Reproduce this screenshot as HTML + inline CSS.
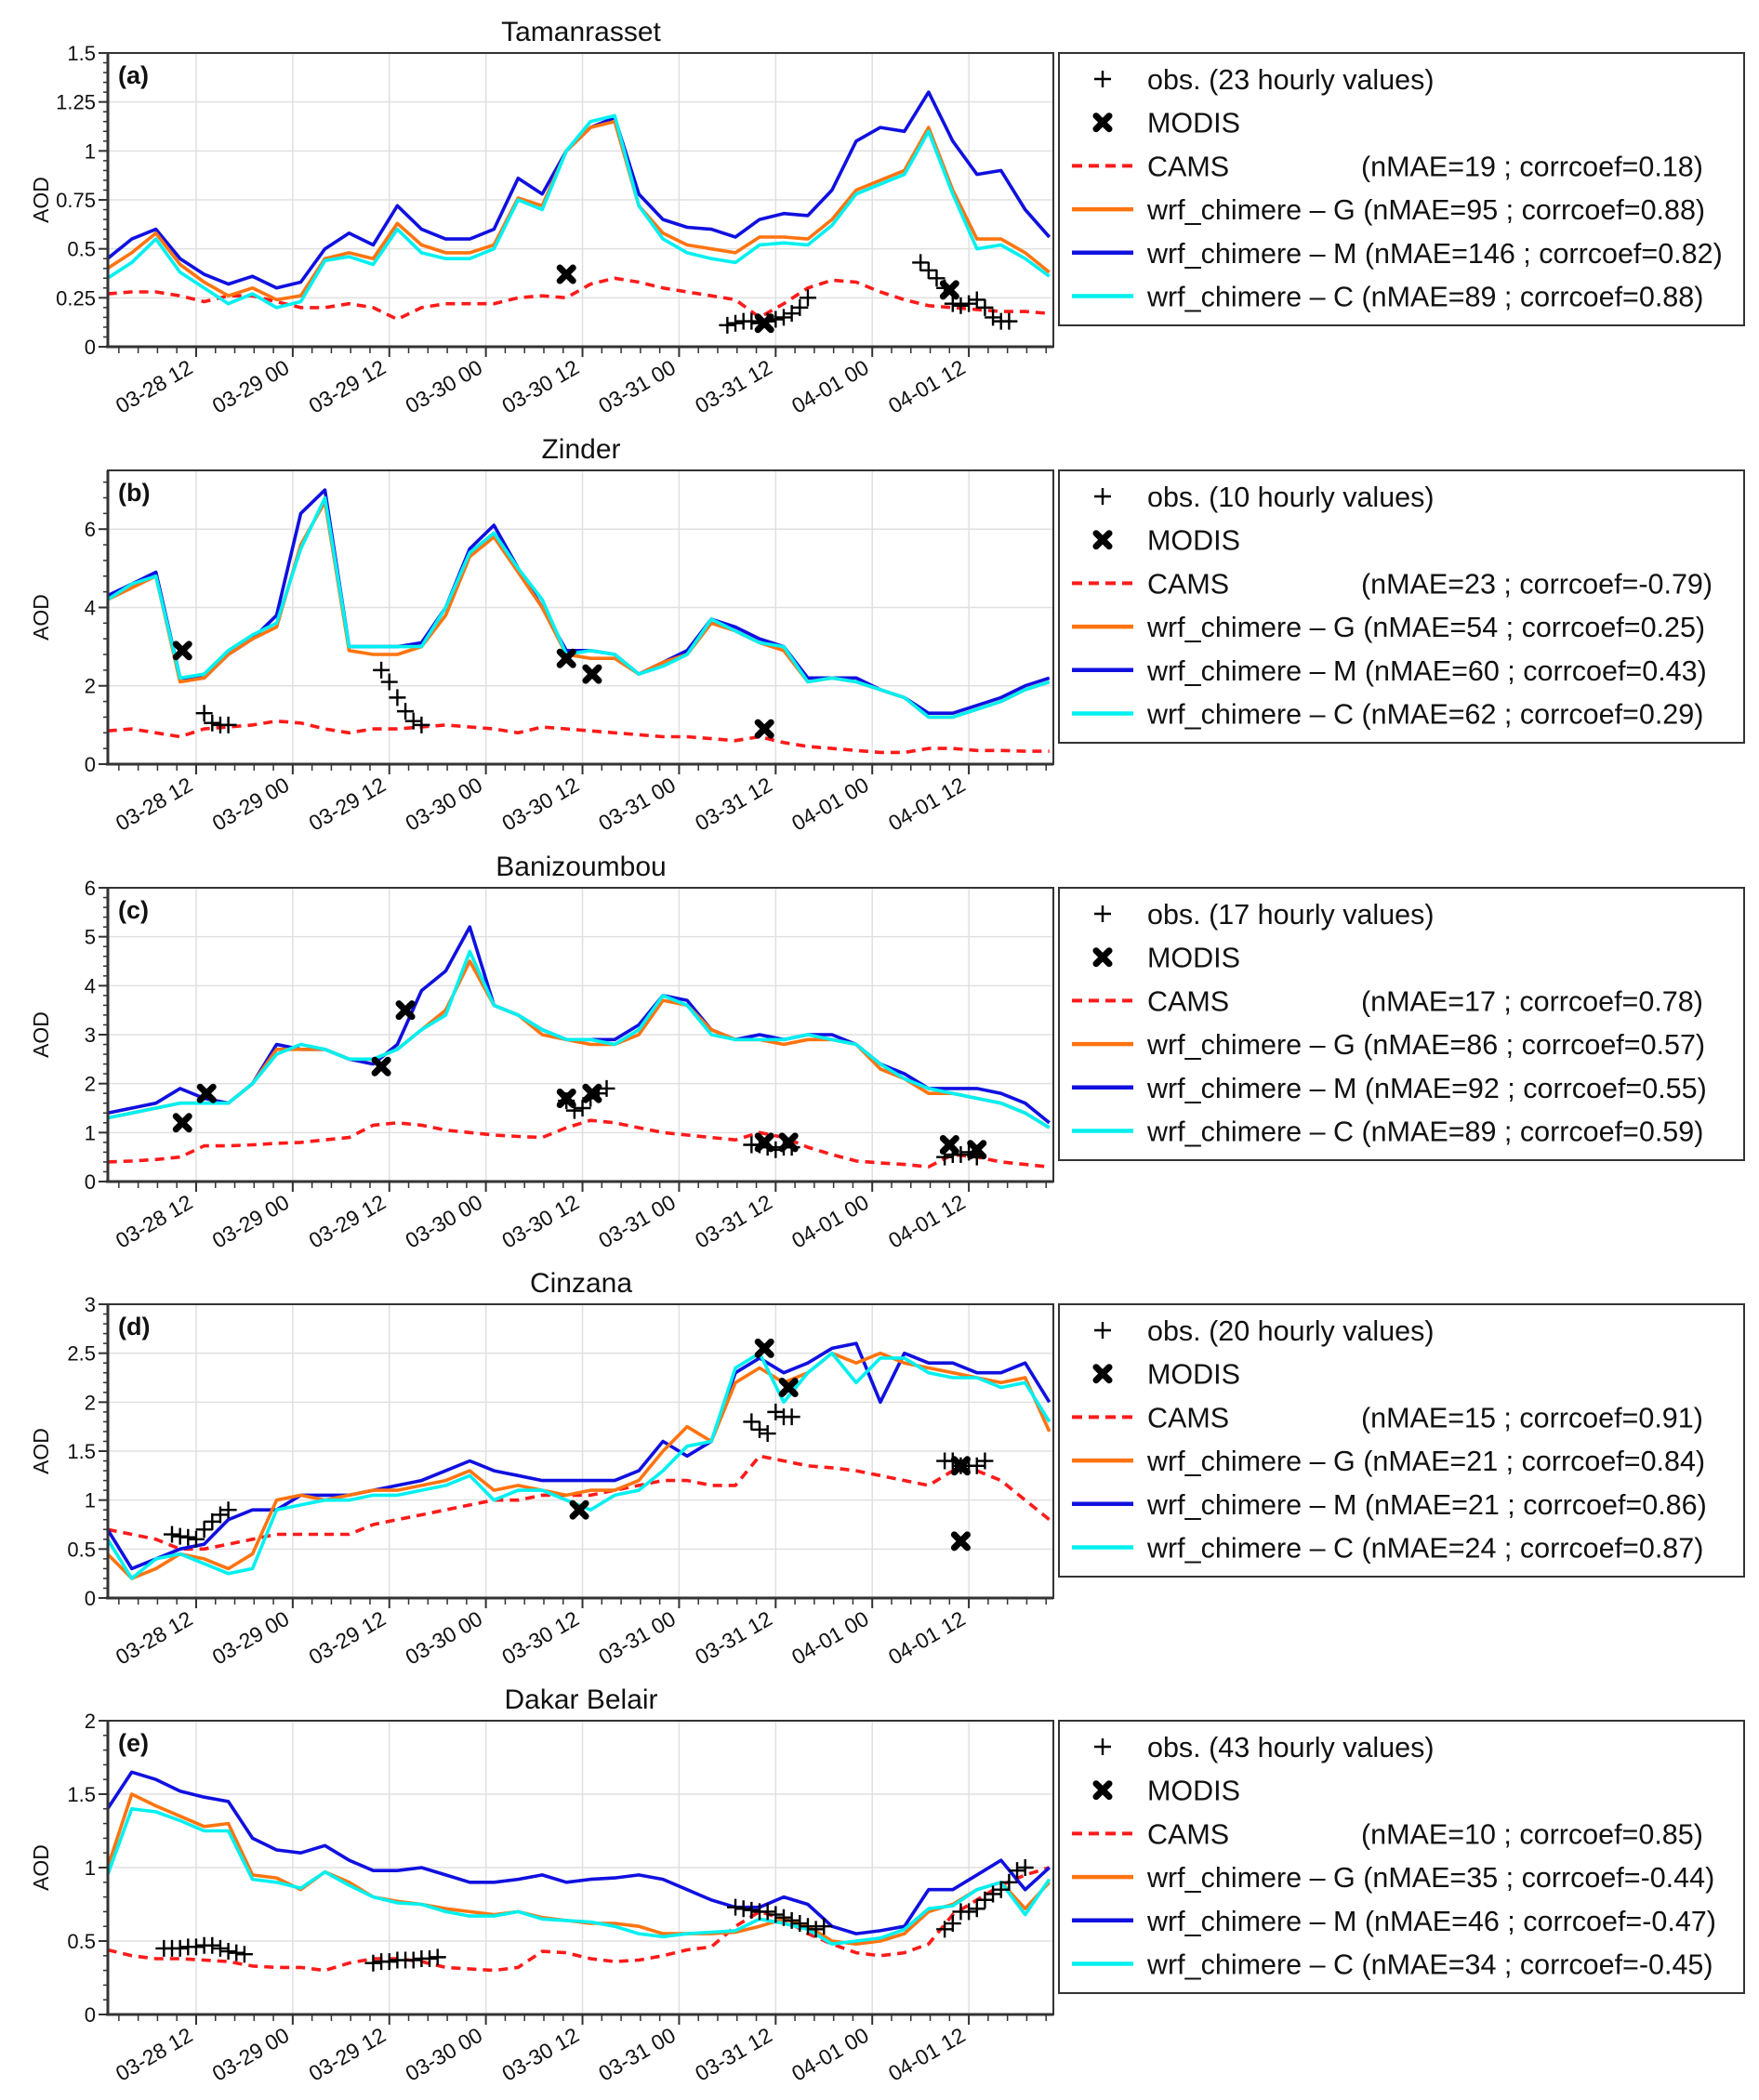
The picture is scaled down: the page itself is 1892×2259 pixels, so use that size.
<!DOCTYPE html>
<html><head><meta charset="utf-8"><title>AOD time series</title>
<style>
html,body{margin:0;padding:0;background:#fff;}
svg{display:block;font-family:"Liberation Sans",Arial,sans-serif;}
</style></head>
<body>
<svg id="fig" width="1892" height="2259" viewBox="0 0 1892 2259"></svg>
<script>
// ---------- data ----------
const hours = [1,4,7,10,13,16,19,22,25,28,31,34,37,40,43,46,49,52,55,58,61,64,67,70,73,76,79,82,85,88,91,94,97,100,103,106,109,112,115,118];
const xTickLabels = ["03-28 12","03-29 00","03-29 12","03-30 00","03-30 12","03-31 00","03-31 12","04-01 00","04-01 12"];
const xTickHours = [12,24,36,48,60,72,84,96,108];
const stationNames = ["Tamanrasset","Zinder","Banizoumbou","Cinzana","Dakar Belair"];
const panelLetters = ["(a)","(b)","(c)","(d)","(e)"];
const yMaxes = [1.5,7.5,6,3,2];
const yTickSteps = [0.25,2,1,0.5,0.5];
const yTickLabelsA = ["0","0.25","0.5","0.75","1","1.25","1.5"];
const yTickLabelsB = ["0","2","4","6"];
const yTickLabelsC = ["0","1","2","3","4","5","6"];
const yTickLabelsD = ["0","0.5","1","1.5","2","2.5","3"];
const yTickLabelsE = ["0","0.5","1","1.5","2"];

const camsA = [0.27,0.28,0.28,0.26,0.23,0.26,0.26,0.23,0.2,0.2,0.22,0.2,0.14,0.2,0.22,0.22,0.22,0.25,0.26,0.25,0.32,0.35,0.33,0.3,0.28,0.26,0.24,0.15,0.22,0.3,0.34,0.33,0.28,0.24,0.21,0.2,0.19,0.18,0.18,0.17];
const gA = [0.4,0.48,0.58,0.42,0.33,0.26,0.3,0.24,0.26,0.45,0.48,0.45,0.63,0.52,0.48,0.48,0.52,0.76,0.72,1.0,1.12,1.15,0.72,0.58,0.52,0.5,0.48,0.56,0.56,0.55,0.65,0.8,0.85,0.9,1.12,0.8,0.55,0.55,0.48,0.38];
const mA = [0.45,0.55,0.6,0.45,0.37,0.32,0.36,0.3,0.33,0.5,0.58,0.52,0.72,0.6,0.55,0.55,0.6,0.86,0.78,1.0,1.12,1.17,0.78,0.65,0.61,0.6,0.56,0.65,0.68,0.67,0.8,1.05,1.12,1.1,1.3,1.05,0.88,0.9,0.7,0.56];
const cA = [0.35,0.43,0.55,0.38,0.3,0.22,0.27,0.2,0.23,0.44,0.46,0.42,0.6,0.48,0.45,0.45,0.5,0.75,0.7,1.0,1.15,1.18,0.72,0.55,0.48,0.45,0.43,0.52,0.53,0.52,0.62,0.78,0.83,0.88,1.1,0.78,0.5,0.52,0.45,0.36];
const obsHoursA = [78,79,80,81,82,83,84,85,86,87,88,102,103,104,105,106,107,108,109,110,111,112,113];
const obsA = [0.11,0.12,0.13,0.13,0.12,0.13,0.14,0.15,0.17,0.2,0.25,0.43,0.39,0.35,0.3,0.22,0.21,0.22,0.24,0.2,0.15,0.13,0.13];
const modisHoursA = [58,82.6,105.6];
const modisA = [0.37,0.12,0.29];

const camsB = [0.85,0.9,0.8,0.7,0.9,0.95,1.0,1.1,1.05,0.9,0.8,0.9,0.9,0.95,1.0,0.95,0.9,0.8,0.95,0.9,0.85,0.8,0.75,0.7,0.7,0.65,0.6,0.7,0.55,0.45,0.4,0.35,0.3,0.3,0.4,0.4,0.35,0.35,0.33,0.33];
const gB = [4.2,4.5,4.8,2.1,2.2,2.8,3.2,3.5,5.6,6.7,2.9,2.8,2.8,3.0,3.8,5.3,5.8,4.9,4.0,2.8,2.7,2.7,2.3,2.6,2.8,3.6,3.4,3.1,2.9,2.1,2.2,2.1,1.9,1.7,1.2,1.2,1.4,1.6,1.9,2.1];
const mB = [4.3,4.6,4.9,2.2,2.2,2.8,3.2,3.8,6.4,7.0,3.0,3.0,3.0,3.1,4.0,5.5,6.1,5.0,4.0,2.9,2.9,2.8,2.3,2.6,2.9,3.7,3.5,3.2,3.0,2.2,2.2,2.2,1.9,1.7,1.3,1.3,1.5,1.7,2.0,2.2];
const cB = [4.2,4.6,4.8,2.2,2.3,2.9,3.3,3.6,5.5,6.8,3.0,3.0,3.0,3.0,4.0,5.4,5.9,5.0,4.2,2.8,2.9,2.8,2.3,2.5,2.8,3.7,3.4,3.1,3.0,2.1,2.2,2.1,1.9,1.7,1.2,1.2,1.4,1.6,1.9,2.1];
const obsHoursB = [13,14,15,16,35,36,37,38,39,40];
const obsB = [1.3,1.05,1.0,1.0,2.4,2.1,1.7,1.35,1.1,1.0];
const modisHoursB = [10.3,58,61.2,82.6];
const modisB = [2.9,2.7,2.3,0.9];

const camsC = [0.4,0.42,0.45,0.5,0.73,0.73,0.75,0.78,0.8,0.85,0.9,1.15,1.2,1.15,1.05,1.0,0.95,0.92,0.9,1.1,1.25,1.2,1.1,1.0,0.95,0.9,0.85,1.0,0.9,0.7,0.55,0.42,0.38,0.35,0.3,0.55,0.5,0.4,0.35,0.3];
const gC = [1.3,1.4,1.5,1.6,1.6,1.6,2.0,2.7,2.7,2.7,2.5,2.5,2.7,3.1,3.5,4.5,3.6,3.4,3.0,2.9,2.8,2.8,3.0,3.7,3.6,3.1,2.9,2.9,2.8,2.9,2.9,2.8,2.3,2.1,1.8,1.8,1.7,1.6,1.4,1.1];
const mC = [1.4,1.5,1.6,1.9,1.7,1.6,2.0,2.8,2.7,2.7,2.5,2.4,2.8,3.9,4.3,5.2,3.6,3.4,3.1,2.9,2.9,2.9,3.2,3.8,3.7,3.1,2.9,3.0,2.9,3.0,3.0,2.8,2.4,2.2,1.9,1.9,1.9,1.8,1.6,1.2];
const cC = [1.3,1.4,1.5,1.6,1.6,1.6,2.0,2.6,2.8,2.7,2.5,2.5,2.7,3.1,3.4,4.7,3.6,3.4,3.1,2.9,2.9,2.8,3.1,3.8,3.6,3.0,2.9,2.9,2.9,3.0,2.9,2.8,2.4,2.1,1.9,1.8,1.7,1.6,1.4,1.1];
const obsHoursC = [58,59,60,61,62,63,81,82,83,84,85,86,105,106,107,108,109];
const obsC = [1.65,1.45,1.5,1.7,1.8,1.9,0.75,0.75,0.7,0.65,0.7,0.7,0.5,0.55,0.55,0.6,0.5];
const modisHoursC = [10.3,13.3,35,38,58,61.2,82.6,85.6,105.6,109];
const modisC = [1.2,1.8,2.35,3.5,1.7,1.8,0.8,0.8,0.75,0.65];

const camsD = [0.7,0.65,0.6,0.5,0.5,0.55,0.6,0.65,0.65,0.65,0.65,0.75,0.8,0.85,0.9,0.95,1.0,1.0,1.05,1.05,1.05,1.1,1.15,1.2,1.2,1.15,1.15,1.45,1.4,1.35,1.33,1.3,1.25,1.2,1.15,1.3,1.3,1.2,1.0,0.8];
const gD = [0.45,0.2,0.3,0.45,0.4,0.3,0.45,1.0,1.05,1.0,1.05,1.1,1.1,1.15,1.2,1.3,1.1,1.15,1.1,1.05,1.1,1.1,1.2,1.5,1.75,1.6,2.2,2.35,2.2,2.3,2.5,2.4,2.5,2.4,2.35,2.3,2.25,2.2,2.25,1.7];
const mD = [0.7,0.3,0.4,0.5,0.55,0.8,0.9,0.9,1.05,1.05,1.05,1.1,1.15,1.2,1.3,1.4,1.3,1.25,1.2,1.2,1.2,1.2,1.3,1.6,1.45,1.6,2.3,2.45,2.3,2.4,2.55,2.6,2.0,2.5,2.4,2.4,2.3,2.3,2.4,2.0];
const cD = [0.6,0.2,0.4,0.45,0.35,0.25,0.3,0.9,0.95,1.0,1.0,1.05,1.05,1.1,1.15,1.25,1.0,1.1,1.1,1.0,0.9,1.05,1.1,1.3,1.55,1.6,2.35,2.5,2.0,2.3,2.5,2.2,2.45,2.45,2.3,2.25,2.25,2.15,2.2,1.8];
const obsHoursD = [9,10,11,12,13,14,15,16,81,82,83,84,85,86,105,106,107,108,109,110];
const obsD = [0.65,0.63,0.62,0.6,0.7,0.78,0.85,0.9,1.8,1.72,1.68,1.9,1.85,1.85,1.4,1.4,1.35,1.35,1.35,1.4];
const modisHoursD = [59.6,82.6,85.6,107,107];
const modisD = [0.9,2.55,2.15,1.35,0.58];

const camsE = [0.44,0.4,0.38,0.38,0.37,0.36,0.33,0.32,0.32,0.3,0.35,0.38,0.38,0.36,0.32,0.31,0.3,0.32,0.43,0.42,0.38,0.36,0.37,0.4,0.44,0.46,0.6,0.7,0.65,0.55,0.48,0.42,0.4,0.42,0.48,0.68,0.78,0.88,0.95,1.0];
const gE = [1.0,1.5,1.42,1.35,1.28,1.3,0.95,0.93,0.85,0.97,0.9,0.8,0.77,0.75,0.72,0.7,0.68,0.7,0.66,0.64,0.62,0.62,0.6,0.55,0.55,0.55,0.56,0.6,0.65,0.6,0.5,0.48,0.5,0.55,0.7,0.75,0.85,0.9,0.72,0.9];
const mE = [1.4,1.65,1.6,1.52,1.48,1.45,1.2,1.12,1.1,1.15,1.05,0.98,0.98,1.0,0.95,0.9,0.9,0.92,0.95,0.9,0.92,0.93,0.95,0.92,0.85,0.78,0.73,0.73,0.8,0.75,0.6,0.55,0.57,0.6,0.85,0.85,0.95,1.05,0.85,1.0];
const cE = [0.95,1.4,1.38,1.32,1.25,1.25,0.92,0.9,0.86,0.97,0.88,0.8,0.76,0.75,0.7,0.67,0.67,0.7,0.65,0.64,0.63,0.6,0.55,0.53,0.55,0.56,0.57,0.65,0.62,0.58,0.48,0.5,0.52,0.58,0.72,0.74,0.85,0.9,0.68,0.92];
const obsHoursE = [8,9,10,11,12,13,14,15,16,17,18,34,35,36,37,38,39,40,41,42,79,80,81,82,83,84,85,86,87,88,89,90,105,106,107,108,109,110,111,112,113,114,115];
const obsE = [0.45,0.45,0.45,0.46,0.46,0.47,0.47,0.45,0.43,0.42,0.41,0.35,0.36,0.36,0.37,0.37,0.37,0.38,0.38,0.39,0.73,0.72,0.71,0.7,0.7,0.68,0.66,0.64,0.62,0.6,0.58,0.6,0.58,0.62,0.7,0.7,0.72,0.78,0.82,0.85,0.9,0.98,1.0];
const modisHoursE = [];
const modisE = [];

const legendObs = ["obs. (23 hourly values)","obs. (10 hourly values)","obs. (17 hourly values)","obs. (20 hourly values)","obs. (43 hourly values)"];
const legendCams = ["(nMAE=19 ; corrcoef=0.18)","(nMAE=23 ; corrcoef=-0.79)","(nMAE=17 ; corrcoef=0.78)","(nMAE=15 ; corrcoef=0.91)","(nMAE=10 ; corrcoef=0.85)"];
const legendG = ["wrf_chimere – G (nMAE=95  ; corrcoef=0.88)","wrf_chimere – G (nMAE=54 ; corrcoef=0.25)","wrf_chimere – G (nMAE=86 ; corrcoef=0.57)","wrf_chimere – G (nMAE=21 ; corrcoef=0.84)","wrf_chimere – G (nMAE=35 ; corrcoef=-0.44)"];
const legendM = ["wrf_chimere – M (nMAE=146 ; corrcoef=0.82)","wrf_chimere – M (nMAE=60 ; corrcoef=0.43)","wrf_chimere – M (nMAE=92 ; corrcoef=0.55)","wrf_chimere – M (nMAE=21 ; corrcoef=0.86)","wrf_chimere – M (nMAE=46 ; corrcoef=-0.47)"];
const legendC = ["wrf_chimere – C (nMAE=89  ; corrcoef=0.88)","wrf_chimere – C (nMAE=62 ; corrcoef=0.29)","wrf_chimere – C (nMAE=89 ; corrcoef=0.59)","wrf_chimere – C (nMAE=24 ; corrcoef=0.87)","wrf_chimere – C (nMAE=34 ; corrcoef=-0.45)"];

// ---------- drawing ----------
const NS = "http://www.w3.org/2000/svg";
const svg = document.getElementById("fig");
function mk(tag, attrs, parent, text){
  const e = document.createElementNS(NS, tag);
  for (const k in attrs) e.setAttribute(k, attrs[k]);
  if (text !== undefined) e.textContent = text;
  (parent || svg).appendChild(e);
  return e;
}
const X0 = 116, X1 = 1133, HMIN = 1.03, HMAX = 118.5;
const PANEL_TOPS = [57,506,955,1403,1851];
const PH = 316;
function xScale(h){ return X0 + (h - HMIN) / (HMAX - HMIN) * (X1 - X0); }

const panels = [
  {cams:camsA,g:gA,m:mA,c:cA,oh:obsHoursA,o:obsA,mh:modisHoursA,mo:modisA,yl:yTickLabelsA},
  {cams:camsB,g:gB,m:mB,c:cB,oh:obsHoursB,o:obsB,mh:modisHoursB,mo:modisB,yl:yTickLabelsB},
  {cams:camsC,g:gC,m:mC,c:cC,oh:obsHoursC,o:obsC,mh:modisHoursC,mo:modisC,yl:yTickLabelsC},
  {cams:camsD,g:gD,m:mD,c:cD,oh:obsHoursD,o:obsD,mh:modisHoursD,mo:modisD,yl:yTickLabelsD},
  {cams:camsE,g:gE,m:mE,c:cE,oh:obsHoursE,o:obsE,mh:modisHoursE,mo:modisE,yl:yTickLabelsE}
];

function plus(g, x, y){
  const p = mk("path", {d:`M${x-9},${y}H${x+9}M${x},${y-9}V${y+9}`, stroke:"#000", "stroke-width":2.4, fill:"none"}, g);
  
  
}
function cross(g, x, y){
  const p = mk("path", {d:`M${x-7},${y-7}L${x+7},${y+7}M${x+7},${y-7}L${x-7},${y+7}`, stroke:"#000", "stroke-width":7, "stroke-linecap":"round", fill:"none"}, g);
  
  
}

panels.forEach((P, i) => {
  const top = PANEL_TOPS[i], bot = top + PH, ymax = yMaxes[i];
  const yScale = v => bot - v / ymax * PH;
  const g = mk("g", {});
  
  

  const t = mk("text", {x:625, y:top-13, "text-anchor":"middle", "font-size":30, fill:"#111"}, g, stationNames[i]);
  
  

  const grid = mk("g", {stroke:"#e0e0e0", "stroke-width":1.5}, g);
  
  
  xTickHours.forEach(h => mk("line", {x1:xScale(h), x2:xScale(h), y1:top, y2:bot}, grid));
  P.yl.forEach((lab, k) => { const y = yScale(k*yTickSteps[i]); if (k>0 && y>top+1) mk("line", {x1:X0, x2:X1, y1:y, y2:y}, grid); });

  const lineDefs = [["cams",P.cams,"#ff1a1a","10,7","cams-line"],["g",P.g,"#ff7410",null,"wrf-chimere-g-line"],["c",P.c,"#00f0f0",null,"wrf-chimere-c-line"],["m",P.m,"#1010e0",null,"wrf-chimere-m-line"]];
  const order = [lineDefs[0], lineDefs[3], lineDefs[1], lineDefs[2]];
  order.forEach(([k, vals, col, dash, name]) => {
    const d = vals.map((v, j) => (j ? "L" : "M") + xScale(hours[j]).toFixed(1) + "," + yScale(v).toFixed(1)).join("");
    const a = {d, stroke:col, "stroke-width":3.6, fill:"none", "stroke-linejoin":"round"};
    if (dash) a["stroke-dasharray"] = dash;
    const p = mk("path", a, g);
    
    
  });
  P.oh.forEach((h, j) => plus(g, xScale(h), yScale(P.o[j])));
  P.mh.forEach((h, j) => cross(g, xScale(h), yScale(P.mo[j])));

  const fr = mk("rect", {x:X0, y:top, width:X1-X0, height:PH, fill:"none", stroke:"#333", "stroke-width":2}, g);
  
  
  mk("line", {x1:X0-2, x2:X1, y1:bot, y2:bot, stroke:"#333", "stroke-width":3}, g);
  mk("line", {x1:X0, x2:X0, y1:top, y2:bot, stroke:"#333", "stroke-width":3}, g);

  const yax = mk("g", {}, g);
  
  
  const minorN = 5;
  for (let v = 0; v <= ymax + 1e-9; v += yTickSteps[i] / minorN) {
    const y = yScale(v); mk("line", {x1:X0-5, x2:X0, y1:y, y2:y, stroke:"#333", "stroke-width":1.5}, yax);
  }
  P.yl.forEach((lab, k) => {
    const y = yScale(k*yTickSteps[i]);
    mk("line", {x1:X0-10, x2:X0, y1:y, y2:y, stroke:"#333", "stroke-width":2}, yax);
    const tl = mk("text", {x:X0-13, y:y+8, "text-anchor":"end", "font-size":22, fill:"#111"}, yax, lab);
    
    
  });
  const yt = mk("text", {x:0, y:0, transform:`translate(52,${top+PH/2}) rotate(-90)`, "text-anchor":"middle", "font-size":23, fill:"#111"}, g, "AOD");
  
  

  const xax = mk("g", {}, g);
  
  
  for (let h = 12 - 2.4*4; h <= HMAX; h += 2.4) {
    if (h < HMIN) continue;
    mk("line", {x1:xScale(h), x2:xScale(h), y1:bot, y2:bot+7, stroke:"#333", "stroke-width":1.5}, xax);
  }
  xTickHours.forEach((h, k) => {
    const x = xScale(h);
    mk("line", {x1:x, x2:x, y1:bot, y2:bot+11, stroke:"#333", "stroke-width":2}, xax);
    const tl = mk("text", {x:0, y:0, transform:`translate(${x-2},${bot+27}) rotate(-30)`, "text-anchor":"end", "font-size":23, fill:"#111"}, xax, xTickLabels[k]);
    
    
  });

  const pl = mk("text", {x:127, y:top+33, "font-size":27, "font-weight":"bold", fill:"#111"}, g, panelLetters[i]);
  
  

  const lg = mk("g", {}, g);
  
  
  mk("rect", {x:1139, y:top, width:737, height:293, fill:"#fff", stroke:"#333", "stroke-width":2}, lg);
  const by = k => top + 39 + k*46.7;
  const ent = (k, label) => {
    const tt = mk("text", {x:1234, y:by(k), "font-size":30.5, fill:"#111"}, lg, label);
    
    
  };
  plus(lg, 1186, by(0)-11);
  ent(0, legendObs[i]);
  cross(lg, 1186, by(1)-11);
  ent(1, "MODIS");
  mk("line", {x1:1153, x2:1219, y1:by(2)-11, y2:by(2)-11, stroke:"#ff1a1a", "stroke-width":4, "stroke-dasharray":"11,7"}, lg);
  ent(2, "CAMS");
  const ct = mk("text", {x:1464, y:by(2), "font-size":30.5, fill:"#111"}, lg, legendCams[i]);
  
  
  [["#ff7410",legendG[i]],["#1010e0",legendM[i]],["#00f0f0",legendC[i]]].forEach(([col, lab], k) => {
    mk("line", {x1:1153, x2:1219, y1:by(3+k)-11, y2:by(3+k)-11, stroke:col, "stroke-width":4.5}, lg);
    ent(3+k, lab);
  });
});
</script>
</body></html>
